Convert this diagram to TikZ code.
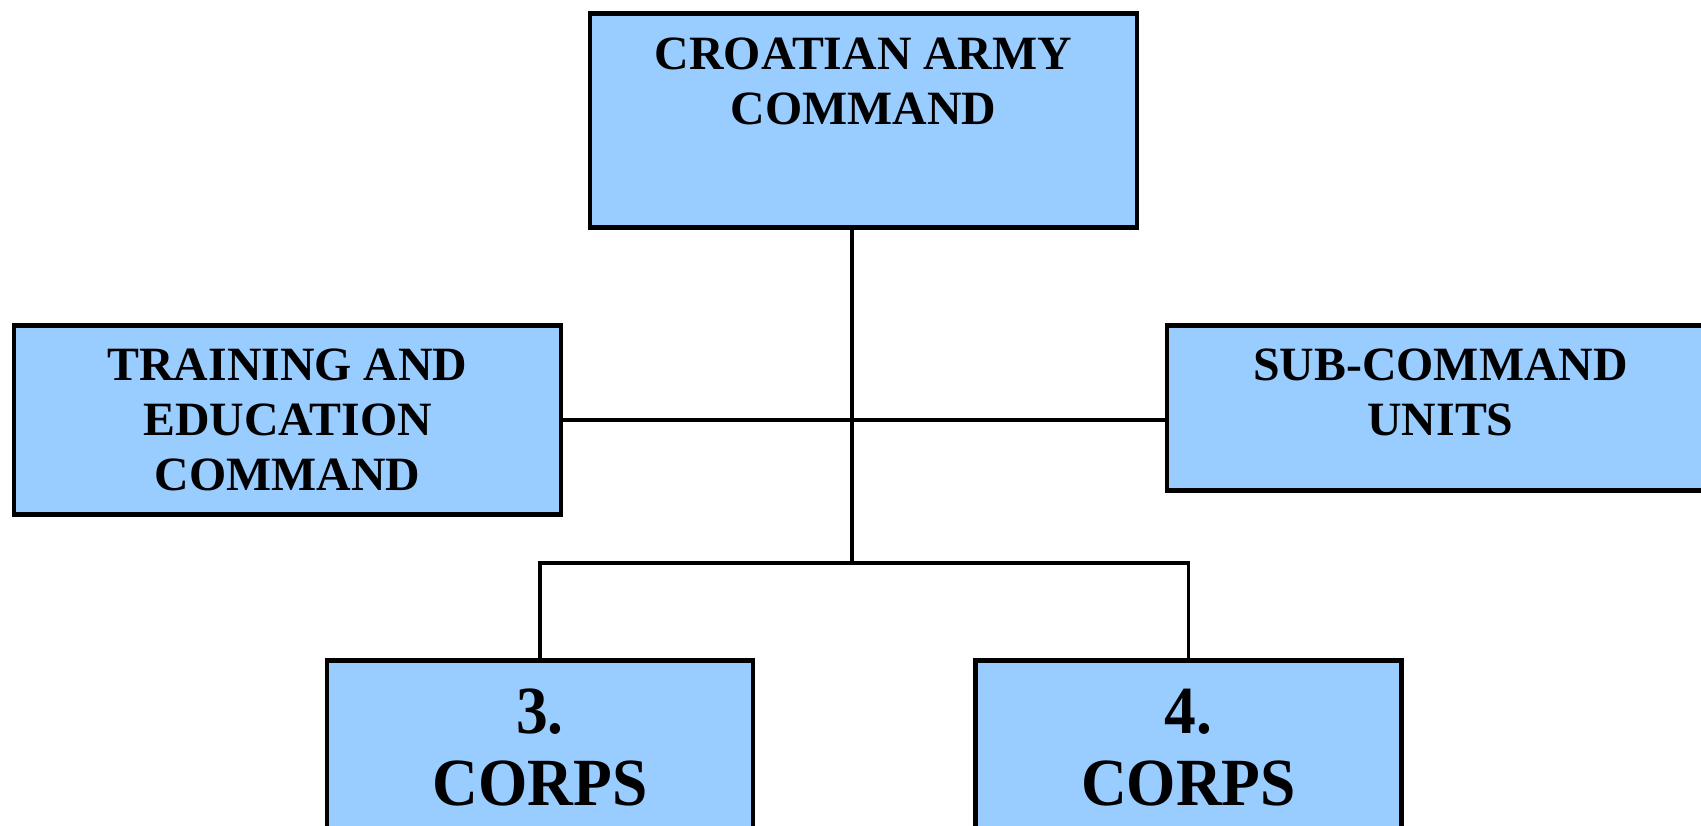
\documentclass[tikz,border=0pt]{standalone}
\usepackage{fontspec}
\setmainfont{Liberation Serif}
\usetikzlibrary{positioning}

\definecolor{unitblue}{RGB}{153,204,255}

\tikzset{
  unit/.style={draw, line width=1.4pt, fill=unitblue, minimum width=5.47cm, inner sep=0pt},
  corpsbox/.style={unit, minimum width=4.26cm, minimum height=2.2cm},
  title/.style={font=\fontsize{13.6}{15.6}\selectfont\bfseries, align=center, inner sep=0pt},
  corpstitle/.style={font=\fontsize{19.2}{20.6}\selectfont\bfseries, align=center, inner sep=0pt, xscale=0.94, transform shape},
  link/.style={line width=1.1pt}
}

\begin{document}
\begin{tikzpicture}

\clip (0,0) rectangle (17.01,-8.25);

\node[unit, minimum height=2.14cm] (army) at (8.635,-1.205) {};
\node[unit, minimum height=1.89cm] (train) at (2.875,-4.20) {};
\node[unit, minimum height=1.65cm] (sub) at (14.405,-4.08) {};
\node[corpsbox] (corps3) at (5.40,-7.705) {};
\node[corpsbox] (corps4) at (11.885,-7.705) {};

\node[title, below=0.26cm of army.north] (armytext) {CROATIAN ARMY\\COMMAND};
\node[title, below=0.25cm of train.north] (traintext) {TRAINING AND\\EDUCATION\\COMMAND};
\node[title, below=0.25cm of sub.north] (subtext) {SUB-COMMAND\\UNITS};
\node[corpstitle, below=0.3cm of corps3.north] (corps3text) {3.\\CORPS};
\node[corpstitle, below=0.3cm of corps4.north] (corps4text) {4.\\CORPS};

\coordinate (trunk) at (8.52,-5.63);

\draw[link] (trunk |- army.south) -- (trunk);
\draw[link] (train.east) -- (train.east -| sub.west);
\draw[link] (corps3.north) -- (corps3.north |- trunk) -- (corps4.north |- trunk) -- (corps4.north);

\end{tikzpicture}
\end{document}
